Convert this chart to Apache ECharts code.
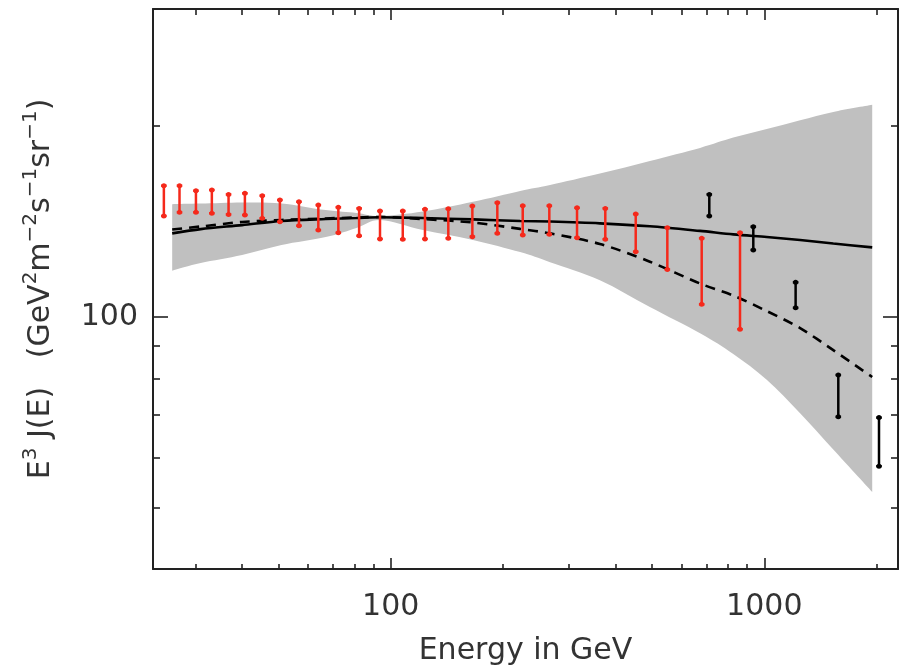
<!DOCTYPE html>
<html><head><meta charset="utf-8">
<script src="https://cdn.jsdelivr.net/npm/echarts@6/dist/echarts.min.js"></script>
<style>html,body{margin:0;padding:0;background:#fff}#c{width:901px;height:670px}</style>
</head><body><div id="c"></div>
<script>
// ---- data ----
const redX    = [24.7, 27.2, 30.1, 33.2, 36.8, 40.7, 45.3, 50.5, 56.8, 64.0, 72.4, 82.3, 93.6, 107.7, 123.5, 142.6, 165.4, 192.9, 225.6, 265.8, 315.3, 375.3, 452.7, 550.1, 679.9, 861];
const redHigh = [160.8, 160.8, 157.9, 158.3, 155.8, 156.4, 155.1, 152.7, 151.7, 149.9, 148.7, 148.1, 146.7, 146.7, 147.6, 147.9, 149.4, 151.2, 149.5, 149.5, 148.4, 148.1, 145.1, 138.1, 132.9, 135.6];
const redLow  = [144.1, 146.0, 146.0, 145.5, 144.9, 144.6, 142.9, 141.1, 139.1, 136.9, 135.6, 134.1, 132.6, 132.4, 132.6, 132.9, 133.7, 135.3, 134.5, 134.8, 133.2, 132.4, 126.6, 118.7, 104.6, 95.6];

const blackX    = [712.5, 934.5, 1213, 1578, 2028];
const blackHigh = [155.8, 138.6, 113.3, 81.0, 69.4];
const blackLow  = [144.1, 127.4, 103.3, 69.6, 58.2];

const curveX   = [26, 31, 40, 51, 67, 81, 94, 122, 166, 222, 267, 363, 494, 673, 826, 1015, 1247, 1530, 1945];
const bandHigh = [150.4, 150.7, 151.3, 150.8, 147.2, 145.7, 144.1, 146.4, 151.7, 157.8, 161.2, 168.0, 175.9, 184.4, 191.4, 197.4, 203.8, 210.0, 215.5];
const bandLow  = [118.2, 121.5, 125.1, 129.7, 133.5, 138.0, 142.0, 136.9, 132.1, 126.4, 121.9, 114.2, 103.6, 94.2, 87.4, 79.6, 70.5, 61.8, 53.0];
const solidY   = [135.3, 137.4, 139.4, 141.5, 142.5, 143.0, 143.4, 143.0, 142.3, 141.5, 141.2, 140.3, 138.8, 136.5, 134.8, 133.5, 132.1, 130.4, 128.6];
const dashedY  = [137.2, 138.7, 141.0, 142.0, 142.8, 143.3, 143.6, 142.5, 140.7, 137.5, 135.3, 130.2, 122.1, 112.8, 108.0, 102.1, 96.0, 88.6, 80.4];

const xMajorTicks = [100, 1000];
const xMinorTicks = [30, 40, 50, 60, 70, 80, 90, 200, 300, 400, 500, 600, 700, 800, 900, 2000];
const yMajorTicks = [100];
const yMinorTicks = [50, 60, 70, 80, 90, 200];
const xRange = [23.1, 2280];
const yRange = [40.1, 305];

// ---- chart ----
const FONT = 'DejaVu Sans';
const FW = 'normal';
const INK = '#222';
const TXT = '#333';
const RED = '#f5291b';

function axis(dir, pos, ticks, len, withLine, labels) {
  const range = dir === 'x' ? xRange : yRange;
  return {
    type: 'log', logBase: 10, min: range[0], max: range[1], position: pos,
    splitLine: { show: false }, minorTick: { show: false },
    axisLine: { show: withLine, onZero: false, lineStyle: { color: INK, width: 2 } },
    axisTick: { show: true, inside: true, length: len, customValues: ticks, lineStyle: { color: INK, width: 1.6 } },
    axisLabel: labels ? {
      show: true, customValues: ticks, color: TXT, fontFamily: FONT, fontWeight: FW, fontSize: 30,
      margin: dir === 'x' ? 23 : 15, formatter: v => String(Math.round(v))
    } : { show: false }
  };
}

const xAxes = [
  Object.assign(axis('x', 'bottom', xMajorTicks, 11, true, true), {
    name: 'Energy in GeV', nameLocation: 'middle', nameGap: 67, nameMoveOverlap: false,
    nameTextStyle: { color: TXT, fontFamily: FONT, fontWeight: FW, fontSize: 30 }
  }),
  axis('x', 'bottom', xMinorTicks, 5, false, false),
  axis('x', 'top', xMajorTicks, 11, true, false),
  axis('x', 'top', xMinorTicks, 6, false, false)
];
const yAxes = [
  Object.assign(axis('y', 'left', yMajorTicks, 15, true, true), {
    name: '{n|E}{s|3}{n| J(E)   (GeV}{s|2}{n|m}{s|\u22122}{n|s}{s|\u22121}{n|sr}{s|\u22121}{n|)}',
    nameLocation: 'middle', nameGap: 92, nameRotate: 90, nameMoveOverlap: false,
    nameTextStyle: {
      color: TXT, fontFamily: FONT, fontWeight: FW, fontSize: 30,
      rich: {
        n: { color: TXT, fontFamily: FONT, fontWeight: FW, fontSize: 30, lineHeight: 40 },
        s: { color: TXT, fontFamily: FONT, fontWeight: FW, fontSize: 20, lineHeight: 18, verticalAlign: 'top' }
      }
    }
  }),
  axis('y', 'left', yMinorTicks, 7, false, false),
  axis('y', 'right', yMajorTicks, 15, true, false),
  axis('y', 'right', yMinorTicks, 7, false, false)
];

function errRender(color) {
  return function (params, api) {
    const x = api.value(0), lo = api.value(1), hi = api.value(2);
    const p1 = api.coord([x, lo]);
    const p2 = api.coord([x, hi]);
    const cw = 2.8;
    const st = { stroke: color, lineWidth: 2.5 };
    return {
      type: 'group', children: [
        { type: 'line', shape: { x1: p1[0], y1: p1[1], x2: p2[0], y2: p2[1] }, style: st },
        { type: 'line', shape: { x1: p1[0] - cw, y1: p1[1], x2: p1[0] + cw, y2: p1[1] }, style: st },
        { type: 'line', shape: { x1: p2[0] - cw, y1: p2[1], x2: p2[0] + cw, y2: p2[1] }, style: st },
        { type: 'circle', shape: { cx: p1[0], cy: p1[1], r: 2.5 }, style: { fill: color } },
        { type: 'circle', shape: { cx: p2[0], cy: p2[1], r: 2.5 }, style: { fill: color } }
      ]
    };
  };
}

// Catmull-Rom smoothing of a pixel polyline into SVG cubic segments
function smoothPath(pts) {
  let d = '';
  for (let i = 0; i < pts.length - 1; i++) {
    const p0 = pts[Math.max(0, i - 1)], p1 = pts[i], p2 = pts[i + 1], p3 = pts[Math.min(pts.length - 1, i + 2)];
    const c1 = [p1[0] + (p2[0] - p0[0]) / 6, p1[1] + (p2[1] - p0[1]) / 6];
    const c2 = [p2[0] - (p3[0] - p1[0]) / 6, p2[1] - (p3[1] - p1[1]) / 6];
    d += ' C' + c1[0] + ' ' + c1[1] + ' ' + c2[0] + ' ' + c2[1] + ' ' + p2[0] + ' ' + p2[1];
  }
  return d;
}

const option = {
  animation: false,
  backgroundColor: '#fff',
  grid: { left: 153, right: 3, top: 9, bottom: 101, containLabel: false, outerBoundsMode: 'none' },
  xAxis: xAxes,
  yAxis: yAxes,
  series: [
    {
      type: 'custom', name: 'band', z: 1, silent: true,
      data: curveX.map((x, i) => [x, bandLow[i], bandHigh[i]]),
      encode: { x: 0, y: [1, 2] },
      renderItem: function (params, api) {
        if (params.dataIndex !== 0) return null;
        const up = curveX.map((x, i) => api.coord([x, bandHigh[i]]));
        const lo = curveX.map((x, i) => api.coord([x, bandLow[i]])).reverse();
        const d = 'M' + up[0][0] + ' ' + up[0][1] + smoothPath(up) +
                  ' L' + lo[0][0] + ' ' + lo[0][1] + smoothPath(lo) + ' Z';
        return { type: 'path', shape: { pathData: d }, style: { fill: '#c0c0c0' } };
      }
    },
    {
      type: 'line', name: 'dashed', z: 2, silent: true, showSymbol: false, smooth: 0.3,
      data: curveX.map((x, i) => [x, dashedY[i]]),
      lineStyle: { color: '#000', width: 2.6, type: [10, 7] }
    },
    {
      type: 'line', name: 'solid', z: 3, silent: true, showSymbol: false, smooth: 0.3,
      data: curveX.map((x, i) => [x, solidY[i]]),
      lineStyle: { color: '#000', width: 2.6 }
    },
    {
      type: 'custom', name: 'red', z: 4, silent: true,
      data: redX.map((x, i) => [x, redLow[i], redHigh[i]]),
      encode: { x: 0, y: [1, 2] },
      renderItem: errRender(RED)
    },
    {
      type: 'custom', name: 'black', z: 4, silent: true,
      data: blackX.map((x, i) => [x, blackLow[i], blackHigh[i]]),
      encode: { x: 0, y: [1, 2] },
      renderItem: errRender('#000')
    }
  ]
};

const chart = echarts.init(document.getElementById('c'), null, { renderer: 'canvas' });
chart.setOption(option);
</script>
</body></html>
